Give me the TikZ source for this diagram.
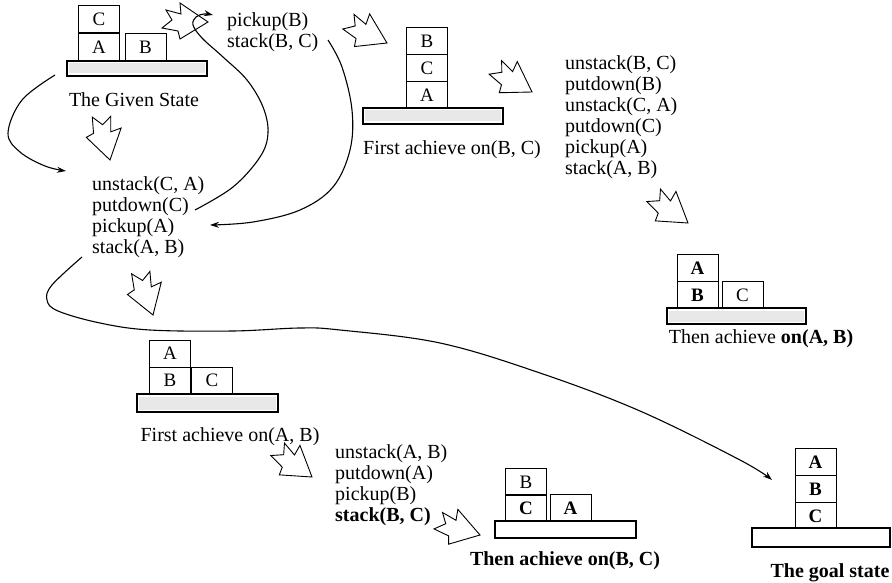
\documentclass[tikz,border=0pt]{standalone}
\usepackage{fontspec}
\setmainfont{Liberation Serif}
\usetikzlibrary{arrows.meta}
\begin{document}
\begin{tikzpicture}[x=1pt,y=-1pt,
  blk/.style={draw, line width=1pt, minimum width=41pt, minimum height=27pt, inner sep=0pt, font=\fontsize{19}{19}\selectfont},
  plat/.style={draw, line width=1.2pt, fill=white, inner sep=0pt,
    path picture={\fill[gray!18] ([shift={(2pt,-2.5pt)}]path picture bounding box.north west) rectangle ([shift={(-2pt,2.5pt)}]path picture bounding box.south east);}},
  platw/.style={draw, line width=1.2pt, fill=white, inner sep=0pt},
  txt/.style={inner sep=0pt, font=\fontsize{20}{21}\selectfont},
  lst/.style={txt, align=left, anchor=west},
  conn/.style={line width=1.1pt, -{Stealth[length=9pt,width=6pt]}},
  barrow/.pic={\draw[line width=0.9pt, line join=miter, fill=white]
     (0,0) -- (-28,-19) -- (-27,-8) -- (-42,-12) -- (-36,-2) -- (-46,6) -- (-30,9) -- (-28,17) -- cycle;}
]
\useasboundingbox (0,0) rectangle (892,583);

% The given state
\node[blk] (g0c) at (99,19) {C};
\node[blk] (g0a) at (99,47) {A};
\node[blk] (g0b) at (145.5,47) {B};
\node[plat, minimum width=140pt, minimum height=15pt] (g0p) at (137,68.5) {};
\node[txt] (g0t) at (134,100) {The Given State};

% First achieve on(B, C)
\node[blk] (s1b) at (427,41) {B};
\node[blk] (s1c) at (427,68) {C};
\node[blk] (s1a) at (427,95) {A};
\node[plat, minimum width=140pt, minimum height=16pt] (s1p) at (433,116) {};
\node[txt] (s1t) at (452,150) {First achieve on(B, C)};

% Then achieve on(A, B)
\node[blk] (s2a) at (697.5,268) {\textbf{A}};
\node[blk] (s2b) at (697.5,295) {\textbf{B}};
\node[blk] (s2c) at (742.5,295) {C};
\node[plat, minimum width=139pt, minimum height=16pt] (s2p) at (736.5,316) {};
\node[txt] (s2t) at (761,339) {Then achieve \textbf{on(A, B)}};

% First achieve on(A, B)
\node[blk] (s3a) at (170,353.5) {A};
\node[blk] (s3b) at (170,380.5) {B};
\node[blk] (s3c) at (212,380.5) {C};
\node[plat, minimum width=141pt, minimum height=18pt] (s3p) at (207.5,403) {};
\node[txt] (s3t) at (230,437) {First achieve on(A, B)};

% Then achieve on(B, C)
\node[blk] (s4b) at (526,482) {B};
\node[blk] (s4c) at (526,508) {\textbf{C}};
\node[blk] (s4a) at (570.5,508) {\textbf{A}};
\node[platw, minimum width=141pt, minimum height=17pt] (s4p) at (565.5,529.5) {};
\node[txt] (s4t) at (565,561) {\textbf{Then achieve on(B, C)}};

% Goal state
\node[blk] (gga) at (815.5,462) {\textbf{A}};
\node[blk] (ggb) at (815.5,489) {\textbf{B}};
\node[blk] (ggc) at (815.5,516) {\textbf{C}};
\node[platw, minimum width=138pt, minimum height=19pt] (ggp) at (821,537.5) {};
\node[txt] (ggt) at (830,572.5) {\textbf{The goal state}};

% Plans
\node[lst] (l1) at (227,32.5) {pickup(B)\\stack(B, C)};
\node[lst] (l2) at (92,217) {unstack(C, A)\\putdown(C)\\pickup(A)\\stack(A, B)};
\node[lst] (l3) at (565,117.5) {unstack(B, C)\\putdown(B)\\unstack(C, A)\\putdown(C)\\pickup(A)\\stack(A, B)};
\node[lst] (l4) at (335,485.5) {unstack(A, B)\\putdown(A)\\pickup(B)\\\textbf{stack(B, C)}};

% Block arrows
\pic at (208,22) {barrow};
\pic[rotate=-25] at (387,43) {barrow};
\pic[rotate=-30] at (532,92) {barrow};
\pic[rotate=-35] at (688,223) {barrow};
\pic[rotate=-75] at (110,160) {barrow};
\pic[rotate=-70] at (153,315) {barrow};
\pic[rotate=-35] at (312,477) {barrow};
\pic[rotate=-15] at (480,535) {barrow};

% Connector end points
\coordinate (c1s) at (195,210);
\coordinate (c1e) at (213,15);
\coordinate (c2s) at (328,40);
\coordinate (c2e) at (210,225);
\coordinate (c3s) at (55,75);
\coordinate (c3e) at (66,171);
\coordinate (c4s) at (82,257);
\coordinate (c4e) at (772,480);

% Connectors
\draw[conn] plot[smooth, tension=0.6] coordinates {(c1s) (233,187) (260,157) (268,133) (263,107) (247,80) (223,57) (202,38) (193,25) (196,17) (204,14) (c1e)};
\draw[conn] plot[smooth, tension=0.6] coordinates {(c2s) (342,67) (352,110) (350,150) (333,187) (300,210) (253,222) (c2e)};
\draw[conn] plot[smooth, tension=0.6] coordinates {(c3s) (22,100) (8,133) (20,152) (45,166) (c3e)};
\draw[conn] plot[smooth, tension=0.6] coordinates {(c4s) (52,285) (47,300) (58,311) (100,323) (150,330) (233,331) (300,328) (340,330) (440,343) (540,373) (640,411) (740,460) (c4e)};
\end{tikzpicture}
\end{document}
